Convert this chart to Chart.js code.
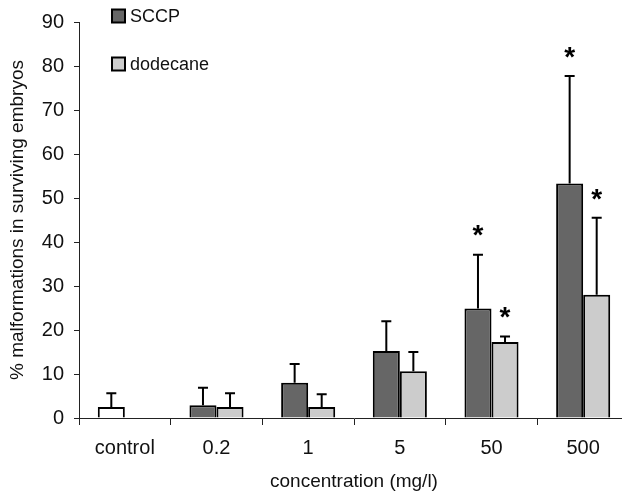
<!DOCTYPE html>
<html>
<head>
<meta charset="utf-8">
<script src="https://cdn.jsdelivr.net/npm/chart.js@4/dist/chart.umd.min.js"></script>
<style>
html, body { margin: 0; padding: 0; overflow: hidden; background: #fff; }
#wrap { width: 640px; height: 496px; position: relative; }
</style>
</head>
<body>
<div id="wrap"><canvas id="c" width="640" height="496"></canvas></div>
<script>
const categories = ['control', '0.2', '1', '5', '50', '500'];
const sccpMeans = [2.5, 2.9, 8.0, 15.2, 24.9, 53.3];
const sccpErrors = [3.1, 4.0, 4.3, 6.8, 12.2, 24.4];
const sccpSignificant = [false, false, false, false, true, true];
const dodecaneMeans = [null, 2.5, 2.5, 10.6, 17.3, 28.0];
const dodecaneErrors = [null, 3.1, 2.9, 4.4, 1.2, 17.5];
const dodecaneSignificant = [false, false, false, false, true, true];
const yTicks = [0, 10, 20, 30, 40, 50, 60, 70, 80, 90];

const FONT = "'Liberation Sans', Arial, Helvetica, sans-serif";
const errs = [sccpErrors, dodecaneErrors];
const sigs = [sccpSignificant, dodecaneSignificant];

const errorBarPlugin = {
  id: 'errorBars',
  afterDatasetsDraw(chart) {
    const ctx = chart.ctx;
    const y = chart.scales.y;
    chart.data.datasets.forEach((ds, di) => {
      const meta = chart.getDatasetMeta(di);
      meta.data.forEach((bar, i) => {
        const v = ds.data[i];
        const e = errs[di][i];
        if (v == null || e == null) return;
        const x = bar.x;
        const y0 = y.getPixelForValue(v);
        const y1 = y.getPixelForValue(v + e);
        ctx.save();
        ctx.strokeStyle = '#000';
        ctx.lineWidth = 2;
        ctx.beginPath();
        ctx.moveTo(x, y0);
        ctx.lineTo(x, y1);
        ctx.moveTo(x - 5, y1);
        ctx.lineTo(x + 5, y1);
        ctx.stroke();
        if (sigs[di][i]) {
          ctx.fillStyle = '#000';
          ctx.font = 'bold 28px ' + FONT;
          ctx.textAlign = 'center';
          ctx.textBaseline = 'middle';
          ctx.fillText('*', x, y1 - 18);
        }
        ctx.restore();
      });
    });
  }
};

const legendPlugin = {
  id: 'customLegend',
  afterDraw(chart) {
    const ctx = chart.ctx;
    const items = [
      { label: 'SCCP', color: '#666666', y: 16 },
      { label: 'dodecane', color: '#cccccc', y: 64 }
    ];
    ctx.save();
    items.forEach(it => {
      ctx.fillStyle = it.color;
      ctx.fillRect(112, it.y - 6.5, 13, 13);
      ctx.strokeStyle = '#000';
      ctx.lineWidth = 2;
      ctx.strokeRect(112, it.y - 6.5, 13, 13);
      ctx.fillStyle = '#111';
      ctx.font = '18px ' + FONT;
      ctx.textAlign = 'left';
      ctx.textBaseline = 'middle';
      ctx.fillText(it.label, 130, it.y + 1);
    });
    ctx.restore();
  }
};

new Chart(document.getElementById('c'), {
  type: 'bar',
  data: {
    labels: categories,
    datasets: [
      {
        label: 'SCCP',
        data: sccpMeans,
        backgroundColor: categories.map((c, i) => i === 0 ? '#ffffff' : '#666666'),
        borderColor: '#000',
        borderWidth: 2,
        categoryPercentage: 0.59,
        barPercentage: 1.0
      },
      {
        label: 'dodecane',
        data: dodecaneMeans,
        backgroundColor: '#cccccc',
        borderColor: '#000',
        borderWidth: 2,
        categoryPercentage: 0.59,
        barPercentage: 1.0
      }
    ]
  },
  options: {
    responsive: false,
    animation: false,
    devicePixelRatio: 1,
    layout: { padding: { top: 22, right: 11, left: 0, bottom: 0 } },
    plugins: { legend: { display: false }, tooltip: { enabled: false } },
    scales: {
      x: {
        grid: { display: true, drawOnChartArea: false, drawTicks: true, tickLength: 7, color: '#222', offset: true },
        border: { display: true, color: '#222', width: 1 },
        ticks: { color: '#111', font: { family: FONT, size: 20 }, padding: 11, maxRotation: 0 },
        title: { display: true, text: 'concentration (mg/l)', color: '#111', font: { family: FONT, size: 19 }, padding: { top: 0, bottom: 3 } },
        afterFit(scale) { scale.height = 78; }
      },
      y: {
        min: 0, max: 90,
        afterBuildTicks(scale) { scale.ticks = yTicks.map(v => ({ value: v })); },
        grid: { display: true, drawOnChartArea: false, drawTicks: true, tickLength: 5, color: '#222' },
        border: { display: true, color: '#222', width: 1 },
        ticks: { color: '#111', font: { family: FONT, size: 20 }, padding: 10 },
        title: { display: true, text: '% malformations in surviving embryos', color: '#111', font: { family: FONT, size: 19 }, padding: { top: 6, bottom: 0 } },
        afterFit(scale) { scale.width = 79; }
      }
    }
  },
  plugins: [errorBarPlugin, legendPlugin]
});
</script>
</body>
</html>
